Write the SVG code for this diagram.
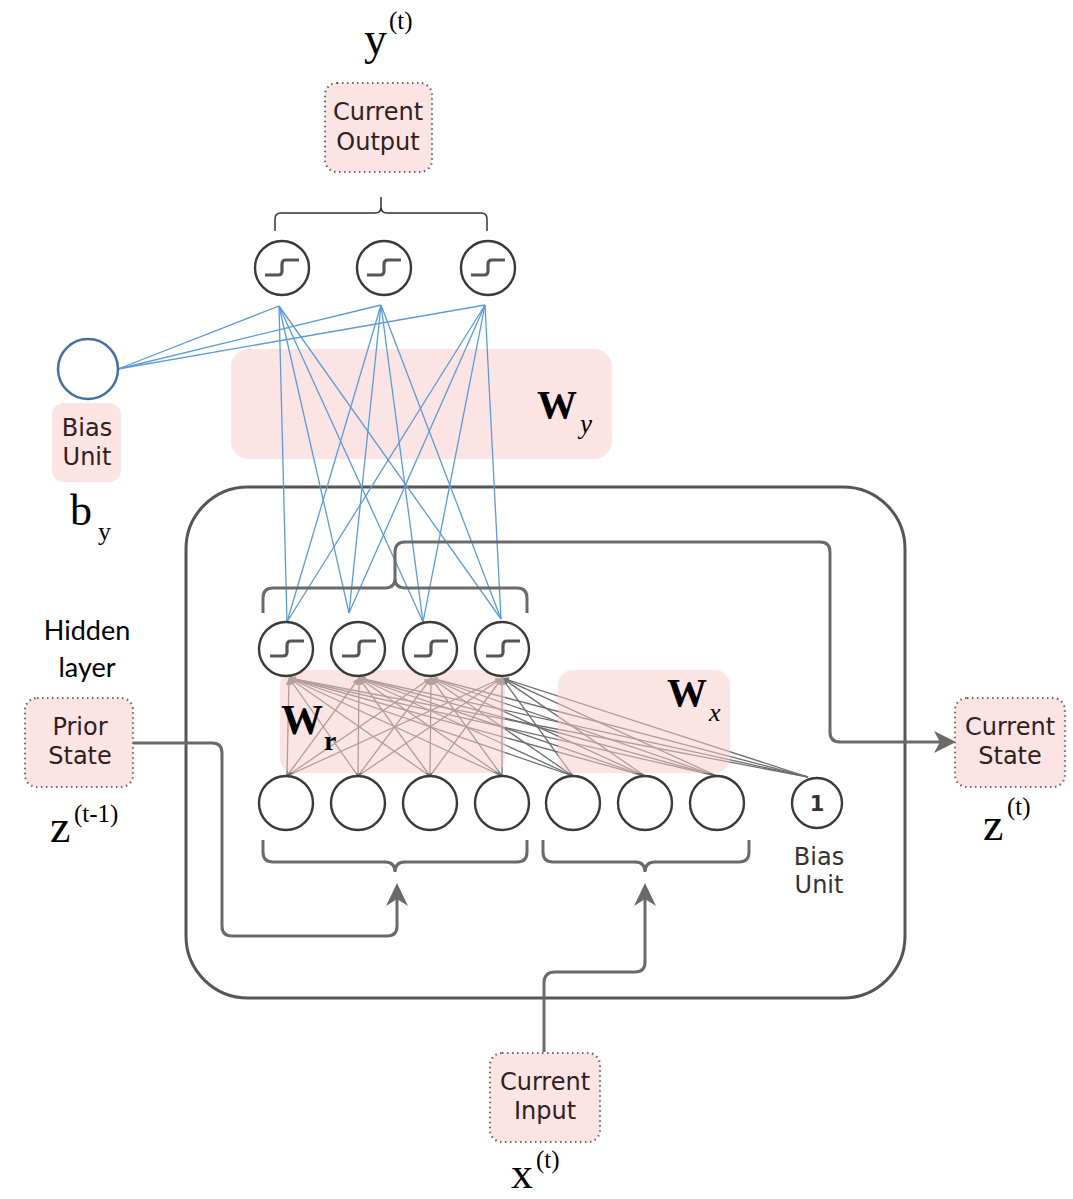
<svg xmlns="http://www.w3.org/2000/svg" width="1073" height="1199" viewBox="0 0 1073 1199">
<style>
.box{fill:#fde4e4;stroke:#6a6a6a;stroke-width:2.2;stroke-dasharray:1.5 3.5;}
.pbox{fill:#fde4e4;stroke:none;}
.ovl{fill:#f7c9c9;opacity:0.5;}
.lbl{font-family:"DejaVu Sans",Verdana,sans-serif;font-size:24px;fill:#2e2020;text-anchor:middle;}
.ser{font-family:"Liberation Serif","Times New Roman",serif;fill:#000;}
.node{fill:#fff;stroke:#3a3a3a;stroke-width:2.4;}
.sig{fill:none;stroke:#555;stroke-width:3.2;}
.blue{stroke:#5b9bd5;stroke-width:1.3;fill:none;}
.gray{stroke:#5e5e5e;stroke-width:1.3;fill:none;opacity:0.9;}
.flow{fill:none;stroke:#6a6a6a;stroke-width:3;}
.brace{fill:none;stroke:#333;stroke-width:1.5;}
.arrow{fill:#6a6a6a;}
</style>
<defs>
<marker id="ah" markerWidth="8" markerHeight="8" refX="7" refY="4" orient="auto" markerUnits="userSpaceOnUse">
<path d="M0,1 L7,4 L0,7 z" fill="#666"/>
</marker>
<path id="sg" d="M-17,7 H-4 Q0,7 0,3 V-4 Q0,-8 4,-8 H17"/>
</defs>

<!-- container -->
<g id="cell">
<rect x="186" y="487" width="719" height="511" rx="62" ry="62" fill="none" stroke="#555" stroke-width="3"/>
</g>

<!-- pink weight box Wy (below blue lines) -->
<g id="wy-box">
<rect class="pbox" x="231" y="349" width="381" height="110" rx="18"/>
</g>

<!-- connectors -->
<g id="connectors">
<!-- bias to outputs -->
<line class="blue" x1="118" y1="369" x2="279" y2="306"/>
<line class="blue" x1="118" y1="369" x2="381" y2="305"/>
<line class="blue" x1="118" y1="369" x2="485" y2="305"/>
<!-- outputs to hidden -->
<line class="blue" x1="279" y1="306" x2="287" y2="622"/>
<line class="blue" x1="279" y1="306" x2="349" y2="613"/>
<line class="blue" x1="279" y1="306" x2="423" y2="622"/>
<line class="blue" x1="279" y1="306" x2="501" y2="619"/>
<line class="blue" x1="381" y1="305" x2="287" y2="622"/>
<line class="blue" x1="381" y1="305" x2="349" y2="613"/>
<line class="blue" x1="381" y1="305" x2="423" y2="622"/>
<line class="blue" x1="381" y1="305" x2="501" y2="619"/>
<line class="blue" x1="485" y1="305" x2="287" y2="622"/>
<line class="blue" x1="485" y1="305" x2="349" y2="613"/>
<line class="blue" x1="485" y1="305" x2="423" y2="622"/>
<line class="blue" x1="485" y1="305" x2="501" y2="619"/>

<!-- inputs to hidden (gray) -->
<g class="gray" marker-end="url(#ah)">
<line x1="287" y1="776" x2="289" y2="678"/><line x1="287" y1="776" x2="359" y2="678"/><line x1="287" y1="776" x2="431" y2="678"/><line x1="287" y1="776" x2="502" y2="678"/>
<line x1="358" y1="776" x2="289" y2="678"/><line x1="358" y1="776" x2="359" y2="678"/><line x1="358" y1="776" x2="431" y2="678"/><line x1="358" y1="776" x2="502" y2="678"/>
<line x1="430" y1="776" x2="289" y2="678"/><line x1="430" y1="776" x2="359" y2="678"/><line x1="430" y1="776" x2="431" y2="678"/><line x1="430" y1="776" x2="502" y2="678"/>
<line x1="502" y1="776" x2="289" y2="678"/><line x1="502" y1="776" x2="359" y2="678"/><line x1="502" y1="776" x2="431" y2="678"/><line x1="502" y1="776" x2="502" y2="678"/>
<line x1="573" y1="776" x2="289" y2="678"/><line x1="573" y1="776" x2="359" y2="678"/><line x1="573" y1="776" x2="431" y2="678"/><line x1="573" y1="776" x2="502" y2="678"/>
<line x1="645" y1="776" x2="289" y2="678"/><line x1="645" y1="776" x2="359" y2="678"/><line x1="645" y1="776" x2="431" y2="678"/><line x1="645" y1="776" x2="502" y2="678"/>
<line x1="717" y1="776" x2="289" y2="678"/><line x1="717" y1="776" x2="359" y2="678"/><line x1="717" y1="776" x2="431" y2="678"/><line x1="717" y1="776" x2="502" y2="678"/>
<line x1="808" y1="777" x2="289" y2="678"/><line x1="808" y1="777" x2="359" y2="678"/><line x1="808" y1="777" x2="431" y2="678"/><line x1="808" y1="777" x2="502" y2="678"/>
</g>

<!-- output brace -->
<path class="brace" d="M275,231 V219 Q275,213 281,213 H375 Q381,213 381,207 V197 M381,207 Q381,213 387,213 H481 Q487,213 487,219 V231"/>

<!-- hidden brace + feedback to current state -->
<path class="flow" d="M263,613 V598 Q263,588 273,588 H385 Q395,588 395,578 M527,613 V598 Q527,588 517,588 H405 Q395,588 395,578 V552 Q395,542 405,542 H820 Q830,542 830,552 V732 Q830,742 840,742 H940"/>
<polygon class="arrow" points="956,742 934,731 940,742 934,753"/>

<!-- lower braces -->
<path class="flow" d="M263,840 V852 Q263,862 273,862 H385 Q395,862 395,872 M527,840 V852 Q527,862 517,862 H405 Q395,862 395,872"/>
<path class="flow" d="M543,840 V852 Q543,862 553,862 H635 Q645,862 645,872 M749,840 V852 Q749,862 739,862 H655 Q645,862 645,872"/>

<!-- prior state to hidden inputs -->
<path class="flow" d="M133,743 H212 Q222,743 222,753 V926 Q222,936 232,936 H387 Q397,936 397,926 V898"/>
<polygon class="arrow" points="397,883 386,906 397,899 408,906"/>

<!-- current input -->
<path class="flow" d="M544,1052 V983 Q544,972 555,972 H635 Q645,972 645,962 V898"/>
<polygon class="arrow" points="645,883 634,906 645,899 656,906"/>
</g>

<!-- translucent weight boxes over gray lines -->
<g id="wr-box">
<rect class="ovl" x="280" y="670" width="225" height="103" rx="15"/>
<text class="ser" x="281" y="734" font-size="42" font-weight="bold">W</text>
<text class="ser" x="324" y="750" font-size="28" font-weight="bold">r</text>
</g>
<g id="wx-box">
<rect class="ovl" x="558" y="670" width="172" height="103" rx="15"/>
<text class="ser" x="667" y="706" font-size="40" font-weight="bold">W</text>
<text class="ser" x="709" y="721" font-size="26" font-style="italic">x</text>
</g>
<g id="wy-label">
<text class="ser" x="537" y="418" font-size="40" font-weight="bold">W</text>
<text class="ser" x="580" y="433" font-size="27" font-style="italic">y</text>
</g>

<!-- output layer -->
<g id="output-nodes">
<circle class="node" cx="282" cy="268" r="27"/><use href="#sg" class="sig" x="282" y="268"/>
<circle class="node" cx="384" cy="268" r="27"/><use href="#sg" class="sig" x="384" y="268"/>
<circle class="node" cx="488" cy="268" r="27"/><use href="#sg" class="sig" x="488" y="268"/>
</g>

<!-- hidden layer -->
<g id="hidden-nodes">
<circle class="node" cx="286" cy="649" r="27"/><use href="#sg" class="sig" x="287" y="649"/>
<circle class="node" cx="358" cy="649" r="27"/><use href="#sg" class="sig" x="359" y="649"/>
<circle class="node" cx="430" cy="649" r="27"/><use href="#sg" class="sig" x="431" y="649"/>
<circle class="node" cx="502" cy="649" r="27"/><use href="#sg" class="sig" x="503" y="649"/>
</g>

<!-- input layer -->
<g id="input-nodes">
<circle class="node" cx="286" cy="803" r="27"/>
<circle class="node" cx="358" cy="803" r="27"/>
<circle class="node" cx="430" cy="803" r="27"/>
<circle class="node" cx="502" cy="803" r="27"/>
<circle class="node" cx="573" cy="803" r="27"/>
<circle class="node" cx="645" cy="803" r="27"/>
<circle class="node" cx="717" cy="803" r="27"/>
</g>

<g id="bias-unit-x">
<circle class="node" cx="817" cy="803" r="25" stroke-width="2"/>
<text x="817" y="811" font-family="DejaVu Sans,sans-serif" font-size="21" font-weight="bold" fill="#333" text-anchor="middle">1</text>
<text class="lbl" x="819" y="865" style="fill:#333">Bias</text>
<text class="lbl" x="819" y="893" style="fill:#333">Unit</text>
</g>

<g id="bias-unit-y">
<circle cx="88" cy="369" r="30" fill="#fff" stroke="#41719c" stroke-width="2.5"/>
<rect class="pbox" x="52" y="403" width="69" height="79" rx="12"/>
<text class="lbl" x="87" y="436">Bias</text>
<text class="lbl" x="87" y="465">Unit</text>
<text class="ser" x="70" y="525" font-size="44">b</text>
<text class="ser" x="98" y="540" font-size="26">y</text>
</g>

<g id="current-output">
<rect class="box" x="325" y="83" width="107" height="89" rx="12"/>
<text class="lbl" x="378" y="120">Current</text>
<text class="lbl" x="378" y="150">Output</text>
<text class="ser" x="364" y="54" font-size="46">y</text>
<text class="ser" x="389" y="29" font-size="25">(t)</text>
</g>

<g id="hidden-label">
<text x="87" y="640" font-family="Lato,'Open Sans',sans-serif" font-size="27" fill="#000" text-anchor="middle">Hidden</text>
<text x="87" y="677" font-family="Lato,'Open Sans',sans-serif" font-size="27" fill="#000" text-anchor="middle">layer</text>
</g>

<g id="prior-state">
<rect class="box" x="25" y="698" width="108" height="89" rx="12"/>
<text class="lbl" x="80" y="735">Prior</text>
<text class="lbl" x="80" y="764">State</text>
<text class="ser" x="50" y="842" font-size="46">z</text>
<text class="ser" x="74" y="822" font-size="25">(t-1)</text>
</g>

<g id="current-state">
<rect class="box" x="955" y="698" width="110" height="89" rx="12"/>
<text class="lbl" x="1010" y="735">Current</text>
<text class="lbl" x="1010" y="764">State</text>
<text class="ser" x="983" y="840" font-size="46">z</text>
<text class="ser" x="1007" y="815" font-size="25">(t)</text>
</g>

<g id="current-input">
<rect class="box" x="490" y="1053" width="110" height="89" rx="12"/>
<text class="lbl" x="545" y="1090">Current</text>
<text class="lbl" x="545" y="1119">Input</text>
<text class="ser" x="511" y="1188" font-size="44">x</text>
<text class="ser" x="536" y="1168" font-size="25">(t)</text>
</g>
</svg>
